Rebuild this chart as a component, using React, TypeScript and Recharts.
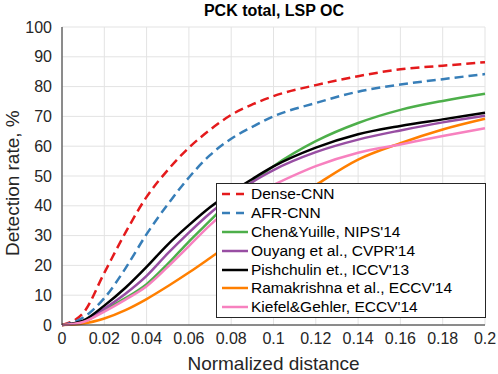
import React from 'react';
import { LineChart, Line, XAxis, YAxis, CartesianGrid } from 'recharts';

// normalized distance samples
const dist = [0, 0.01, 0.02, 0.03, 0.04, 0.05, 0.06, 0.07, 0.08, 0.09, 0.1, 0.12, 0.14, 0.16, 0.18, 0.2];

// detection rate, %
const denseCnn = [0, 4, 17.5, 31, 43, 52, 59.5, 65.5, 70.5, 74, 76.8, 80.5, 83.5, 85.8, 87, 88.2];
const afrCnn = [0, 2.5, 9, 19, 30.5, 40.5, 49.5, 57, 62.5, 66.5, 70, 74.5, 78.3, 80.7, 82.5, 84.2];
const chenYuille = [0, 1, 5, 9, 13.7, 20.5, 28, 35, 42, 48, 53.3, 61.7, 67.8, 72.2, 75.2, 77.6];
const ouyang = [0, 1.2, 5.5, 10.5, 16.5, 24, 31, 37.5, 43, 48, 52, 58, 62.2, 65.3, 68, 70.2];
const pishchulin = [0, 1.5, 6.5, 12.5, 19.5, 27, 33.5, 39.5, 44.5, 49, 53.2, 59.5, 64, 66.8, 69, 71.2];
const ramakrishna = [0, 0.5, 2.2, 5, 8.7, 13, 17.6, 22.5, 27.5, 33, 38, 47, 55.5, 61, 65.6, 69.2];
const kiefel = [0, 1, 4.5, 8.5, 13, 19.5, 26.5, 33.5, 39.5, 43.5, 47, 53.3, 57.8, 60.6, 63.4, 66];

const xTicks = [0, 0.02, 0.04, 0.06, 0.08, 0.1, 0.12, 0.14, 0.16, 0.18, 0.2];
const yTicks = [0, 10, 20, 30, 40, 50, 60, 70, 80, 90, 100];

const series = [
  { key: 'dense', name: 'Dense-CNN', values: denseCnn, color: '#e41a1c', dashed: true },
  { key: 'afr', name: 'AFR-CNN', values: afrCnn, color: '#377eb8', dashed: true },
  { key: 'chen', name: "Chen&Yuille, NIPS'14", values: chenYuille, color: '#4daf4a', dashed: false },
  { key: 'ouyang', name: "Ouyang et al., CVPR'14", values: ouyang, color: '#984ea3', dashed: false },
  { key: 'pish', name: "Pishchulin et., ICCV'13", values: pishchulin, color: '#000000', dashed: false },
  { key: 'rama', name: "Ramakrishna et al., ECCV'14", values: ramakrishna, color: '#ff7f00', dashed: false },
  { key: 'kiefel', name: "Kiefel&Gehler, ECCV'14", values: kiefel, color: '#f781bf', dashed: false },
];

const data = dist.map((d, i) => {
  const row: { [k: string]: number } = { d };
  series.forEach(s => { row[s.key] = s.values[i]; });
  return row;
});

const FONT = '"Liberation Sans", Arial, Helvetica, sans-serif';
const AXIS = '#262626';

const fmtX = (v: number) => String(Number(v.toFixed(2)));

const LegendBox = () => (
  <div style={{
    position: 'absolute', left: 216, top: 183, width: 270, height: 135,
    border: `1px solid ${AXIS}`, background: '#fff', padding: '1px 0 0 4px',
    fontFamily: FONT, fontSize: 15.5, color: '#000', boxSizing: 'border-box',
  }}>
    {series.map(s => (
      <div key={s.key} style={{ display: 'flex', alignItems: 'center', height: 18.8, whiteSpace: 'nowrap' }}>
        <svg width={28} height={6} style={{ marginRight: 2 }}>
          <line x1={1} y1={3} x2={27} y2={3} stroke={s.color} strokeWidth={2.5}
            strokeDasharray={s.dashed ? '8 6' : undefined} />
        </svg>
        <span>{s.name}</span>
      </div>
    ))}
  </div>
);

export default function App() {
  return (
    <div style={{ position: 'absolute', left: 0, top: 0, width: 498, height: 374, background: '#fff' }}>
      <div style={{
        position: 'absolute', left: 0, top: 2, width: 548, textAlign: 'center',
        fontFamily: FONT, fontWeight: 'bold', fontSize: 16, color: '#000',
      }}>PCK total, LSP OC</div>
      <LineChart width={498} height={374} data={data}
        margin={{ top: 27, right: 13, left: 22, bottom: 18 }}>
        <CartesianGrid stroke="#e3e3e3" strokeWidth={1} />
        <XAxis dataKey="d" type="number" domain={[0, 0.2]} ticks={xTicks} tickFormatter={fmtX}
          tickLine={false} axisLine={{ stroke: AXIS }} height={31} interval={0}
          tick={{ fill: AXIS, fontSize: 16, fontFamily: FONT }} tickMargin={2}
          label={{ value: 'Normalized distance', position: 'insideBottom', offset: -14,
            style: { fill: AXIS, fontSize: 19, fontFamily: FONT } }} />
        <YAxis type="number" domain={[0, 100]} ticks={yTicks} interval={0}
          tickLine={false} axisLine={{ stroke: AXIS }} width={40}
          tick={{ fill: AXIS, fontSize: 16, fontFamily: FONT }} tickMargin={4}
          label={{ value: 'Detection rate, %', angle: -90, position: 'insideLeft', offset: -10, dy: 80,
            style: { fill: AXIS, fontSize: 19, fontFamily: FONT } }} />
        {series.map(s => (
          <Line key={s.key} dataKey={s.key} name={s.name} type="monotone" stroke={s.color}
            strokeWidth={2.5} dot={false} isAnimationActive={false}
            strokeDasharray={s.dashed ? '9 5' : undefined} />
        ))}
      </LineChart>
      <LegendBox />
    </div>
  );
}
